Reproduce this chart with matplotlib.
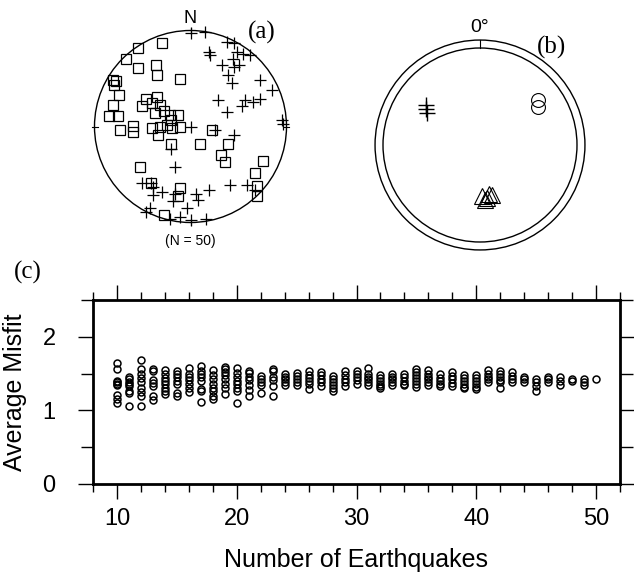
import numpy as np
import matplotlib
matplotlib.use("Agg")
import matplotlib.pyplot as plt
from matplotlib.patches import Circle
from matplotlib.ticker import MultipleLocator

# ---- data ----
# (a) projected axes positions inside the unit circle (east, north)
sq_e = [-0.30, -0.55, -0.67, -0.55, -0.36, -0.35, -0.11, -0.81, -0.78, -0.80, -0.75, -0.81,
        -0.85, -0.76, -0.46, -0.51, -0.35, -0.40, -0.32, -0.37, -0.21, -0.13, -0.20, -0.73,
        -0.60, -0.60, -0.40, -0.32, -0.34, -0.11, -0.19, -0.20, 0.10, 0.22, 0.39, 0.32,
        0.36, -0.53, -0.41, -0.11, -0.13, -0.28, 0.75, 0.67, 0.69, 0.69, -0.24, -0.28]
sq_n = [0.87, 0.82, 0.70, 0.61, 0.64, 0.54, 0.50, 0.48, 0.47, 0.43, 0.33, 0.22,
        0.11, 0.11, 0.29, 0.21, 0.31, 0.24, 0.22, 0.14, 0.12, 0.12, 0.07, -0.04,
        0.01, -0.06, -0.02, 0.00, -0.09, -0.01, -0.02, -0.18, -0.18, -0.04, -0.18, -0.30,
        -0.37, -0.42, -0.59, -0.64, -0.72, -0.92, -0.36, -0.48, -0.62, -0.72, 0.02, 0.16]
cr_e = [0.00, 0.15, 0.38, 0.45, 0.48, 0.55, 0.62, 0.19, 0.20, 0.33, 0.45, 0.50, 0.39,
        0.43, 0.72, 0.85, 0.72, 0.65, 0.57, 0.54, 0.29, 0.38, 0.95, 0.96, 0.00, 0.26,
        0.45, -0.20, -0.16, -0.51, -0.39, -0.30, -0.39, -0.16, -0.18, 0.06, 0.08, 0.19,
        0.41, 0.59, -0.04, -0.42, -0.21, -0.11, 0.00, 0.16, -0.46, 0.67, -0.41, 0.44]
cr_n = [0.97, 0.98, 0.88, 0.87, 0.78, 0.76, 0.74, 0.78, 0.74, 0.64, 0.62, 0.64, 0.54,
        0.45, 0.48, 0.38, 0.29, 0.26, 0.28, 0.21, 0.28, 0.15, 0.07, 0.03, -0.01, -0.04,
        -0.09, -0.23, -0.42, -0.59, -0.63, -0.68, -0.71, -0.70, -0.78, -0.70, -0.77, -0.66,
        -0.61, -0.61, -0.85, -0.85, -0.96, -0.94, -0.97, -0.96, -0.89, -0.66, -0.59, 0.70]

# (b) solution clusters (east, north) inside inner circle
b_cross_e = [-0.56, -0.56, -0.55]
b_cross_n = [0.41, 0.37, 0.33]
b_circ_e = [0.60, 0.60]
b_circ_n = [0.46, 0.39]
b_tri_e = [0.02, 0.09, 0.12, 0.05, 0.07]
b_tri_n = [-0.53, -0.50, -0.52, -0.57, -0.55]

# (c) average misfit for each number of earthquakes
n_quakes = list(range(10, 51))
misfit = [
    [1.64, 1.56, 1.40, 1.38, 1.36, 1.34, 1.21, 1.15, 1.10],        # 10
    [1.45, 1.42, 1.39, 1.36, 1.33, 1.27, 1.24, 1.06],              # 11
    [1.68, 1.56, 1.50, 1.44, 1.38, 1.31, 1.25, 1.19, 1.06],        # 12
    [1.56, 1.54, 1.41, 1.37, 1.33, 1.19, 1.14],                    # 13
    [1.55, 1.49, 1.44, 1.40, 1.36, 1.31, 1.26, 1.22],              # 14
    [1.54, 1.49, 1.45, 1.40, 1.36, 1.23, 1.19],                    # 15
    [1.57, 1.50, 1.45, 1.41, 1.36, 1.30, 1.25],                    # 16
    [1.61, 1.54, 1.50, 1.45, 1.40, 1.29, 1.27, 1.11],              # 17
    [1.55, 1.48, 1.42, 1.36, 1.31, 1.27, 1.20, 1.15],              # 18
    [1.59, 1.56, 1.52, 1.48, 1.43, 1.36, 1.30, 1.22],              # 19
    [1.58, 1.51, 1.45, 1.40, 1.36, 1.31, 1.27, 1.10],              # 20
    [1.54, 1.51, 1.46, 1.41, 1.35, 1.28, 1.19],                    # 21
    [1.47, 1.43, 1.39, 1.35, 1.24],                                # 22
    [1.56, 1.53, 1.46, 1.41, 1.33, 1.19],                          # 23
    [1.50, 1.46, 1.42, 1.38, 1.34],                                # 24
    [1.51, 1.47, 1.43, 1.39, 1.35],                                # 25
    [1.54, 1.48, 1.44, 1.40, 1.36, 1.29],                          # 26
    [1.52, 1.48, 1.43, 1.38, 1.33],                                # 27
    [1.47, 1.43, 1.39, 1.35, 1.31, 1.27],                          # 28
    [1.53, 1.48, 1.43, 1.38, 1.33],                                # 29
    [1.54, 1.50, 1.46, 1.41, 1.36],                                # 30
    [1.57, 1.50, 1.46, 1.42, 1.38, 1.35],                          # 31
    [1.48, 1.44, 1.40, 1.36, 1.33, 1.30],                          # 32
    [1.50, 1.46, 1.42, 1.38, 1.35],                                # 33
    [1.50, 1.45, 1.40, 1.36, 1.34],                                # 34
    [1.56, 1.52, 1.48, 1.44, 1.40, 1.36, 1.32],                    # 35
    [1.55, 1.50, 1.46, 1.42, 1.38, 1.34],                          # 36
    [1.49, 1.44, 1.40, 1.36, 1.33],                                # 37
    [1.52, 1.47, 1.42, 1.37, 1.33],                                # 38
    [1.48, 1.44, 1.40, 1.36, 1.32, 1.30],                          # 39
    [1.48, 1.44, 1.40, 1.36, 1.32, 1.29],                          # 40
    [1.55, 1.50, 1.46, 1.42, 1.38],                                # 41
    [1.53, 1.49, 1.45, 1.41, 1.38, 1.30],                          # 42
    [1.52, 1.47, 1.43, 1.39],                                      # 43
    [1.45, 1.42, 1.38],                                            # 44
    [1.42, 1.38, 1.33, 1.27],                                      # 45
    [1.46, 1.42, 1.38],                                            # 46
    [1.45, 1.40, 1.34],                                            # 47
    [1.42, 1.40],                                                  # 48
    [1.43, 1.38, 1.34],                                            # 49
    [1.42],                                                        # 50
]

sans = "Liberation Sans"
serif = "Liberation Serif"

fig = plt.figure(figsize=(6.34, 5.76), dpi=100)
W, H = 634.0, 576.0


def px_axes(cx, cy, r, lim):
    # axes box centred on pixel (cx, cy), r pixels per data unit
    half = r * lim
    return fig.add_axes([(cx - half) / W, (H - cy - half) / H, 2 * half / W, 2 * half / H])


# ---- (a) stereonet ----
ax1 = px_axes(190.5, 126.5, 96, 1.3)
ax1.set_xlim(-1.3, 1.3)
ax1.set_ylim(-1.3, 1.3)
ax1.axis("off")
ax1.add_patch(Circle((0, 0), 1.0, fill=False, lw=1.0, color="black"))
for ang in [0, 90, 180, 270]:
    a = np.radians(ang)
    ax1.plot([0.96 * np.sin(a), 1.03 * np.sin(a)], [0.96 * np.cos(a), 1.03 * np.cos(a)],
             color="black", lw=0.8)
ax1.plot(sq_e, sq_n, "s", ms=7.3, mfc="none", mec="black", mew=0.9, clip_on=False)
ax1.plot(cr_e, cr_n, "+", ms=8, color="black", mew=0.9, clip_on=False)
ax1.text(0, 1.13, "N", family=sans, fontsize=13, ha="center", va="center")
ax1.text(0.745, 0.975, "(a)", family=serif, fontsize=18, ha="center", va="center")
ax1.text(0, -1.19, "(N = 50)", family=sans, fontsize=10, ha="center", va="center")

# ---- (b) solution clusters ----
ax2 = px_axes(480, 145, 97, 1.3)
ax2.set_xlim(-1.3, 1.3)
ax2.set_ylim(-1.3, 1.3)
ax2.axis("off")
ax2.add_patch(Circle((0, 0), 1.0, fill=False, lw=1.0, color="black"))
ax2.add_patch(Circle((0, 0), 1.082, fill=False, lw=1.0, color="black"))
ax2.plot([0, 0], [1.0, 1.082], color="black", lw=0.8)
ax2.plot(b_cross_e, b_cross_n, "+", ms=11, color="black", mew=1.0)
ax2.plot(b_circ_e, b_circ_n, "o", ms=10, mfc="none", mec="black", mew=0.8)
ax2.plot(b_tri_e, b_tri_n, "^", ms=11, mfc="none", mec="black", mew=0.8)
ax2.text(0, 1.21, "0°", family=sans, fontsize=14, ha="center", va="center")
ax2.text(0.74, 1.01, "(b)", family=serif, fontsize=18, ha="center", va="center")

# ---- (c) misfit vs number of earthquakes ----
ax3 = fig.add_axes([93 / W, (H - 484) / H, 527 / W, 184 / H])
for n, vals in zip(n_quakes, misfit):
    ax3.plot([n] * len(vals), vals, "o", ms=5.0, mfc="none", mec="black", mew=1.1)
ax3.set_xlim(8, 52)
ax3.set_ylim(0, 2.5)
ax3.xaxis.set_major_locator(MultipleLocator(10))
ax3.xaxis.set_minor_locator(MultipleLocator(2))
ax3.yaxis.set_major_locator(MultipleLocator(1))
ax3.yaxis.set_minor_locator(MultipleLocator(0.5))
ax3.tick_params(which="both", direction="out", top=True, right=True, width=1.0,
                labelsize=17, pad=6)
ax3.tick_params(which="major", length=11)
ax3.tick_params(which="minor", length=6)
ax3.tick_params(axis="y", which="minor", length=9)
ax3.tick_params(axis="y", which="major", pad=16)
for lab in ax3.get_xticklabels() + ax3.get_yticklabels():
    lab.set_family(sans)
for sp in ax3.spines.values():
    sp.set_linewidth(2.0)
ax3.set_xlabel("Number of Earthquakes", family=sans, fontsize=18, labelpad=13)
ax3.set_ylabel("Average Misfit", family=sans, fontsize=18, labelpad=11)
fig.text(28 / W, 1 - 272 / H, "(c)", family=serif, fontsize=18, ha="center", va="center")

fig.savefig("out.png", dpi=100)
